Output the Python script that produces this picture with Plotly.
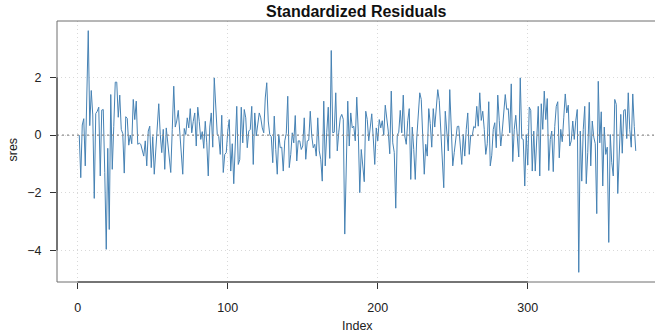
import plotly.graph_objects as go

sres = [
    0.00, -1.48, 0.35, 0.57, -1.07, 1.60, 3.63, 0.33, 1.55, 0.70,
    -2.20, 0.75, 0.83, 0.97, -1.42, 0.87, 0.89, -1.30, -3.97, -0.46,
    -3.28, 1.41, -1.19, 0.30, 1.84, 1.84, 0.62, 1.39, 0.20, 0.05,
    -1.32, 0.64, 0.58, -0.35, 0.00, -0.30, 1.24, 0.54, 1.18, -0.32,
    -0.28, -0.32, -0.50, -0.73, -0.20, -1.07, 0.14, 0.31, -1.13, -0.05,
    -1.36, -0.60, 0.25, 1.09, 0.02, -0.61, 0.20, -1.19, 0.25, -0.20,
    -0.75, -1.30, 0.20, 1.70, 0.28, 0.49, 0.86, 0.20, -0.55, -1.36,
    0.23, 0.02, 0.60, 0.25, 0.92, 0.08, 0.48, 0.77, -0.38, 0.97,
    0.48, -0.15, 0.12, -0.46, 0.48, -0.27, -1.42, 0.28, 0.77, -0.42,
    1.99, 0.95, 0.02, -0.05, -0.67, 0.69, -1.30, -0.67, -0.61, 0.14,
    0.54, -1.25, -0.30, -1.69, -0.20, 1.00, -1.02, -0.85, 0.97, -0.27,
    0.89, 0.60, -0.44, 0.14, 0.20, 1.00, -1.02, 0.77, -0.03, 0.50,
    0.77, 0.60, 0.25, 0.08, 1.29, 1.82, 0.49, 0.02, -0.05, -0.96,
    0.66, -0.50, -1.36, 0.02, -0.44, -0.42, -1.25, -0.20, 0.05, 1.35,
    -1.13, -0.67, 0.08, -0.27, 0.68, -0.90, -0.20, -0.20, -0.50, -0.38,
    0.60, -0.84, -0.20, -0.18, 0.83, -0.03, -0.44, -0.32, -0.73, 0.60,
    -0.55, -0.84, -1.60, 1.18, -1.07, 0.10, 0.97, -0.81, 2.94, 0.08,
    0.10, 1.47, -0.55, 0.10, 0.60, 0.72, 0.55, -3.44, -1.10, 1.18,
    -0.38, 0.77, 0.25, 0.31, -0.20, 1.32, 0.14, -2.00, -0.50, -1.05,
    -1.62, 0.83, 0.54, -0.20, 0.30, 0.74, -0.10, -1.02, 0.25, -0.20,
    0.54, 0.25, 0.50, 0.00, 1.04, 0.60, 0.14, -0.65, 1.53, -0.27,
    -0.60, -2.54, 0.00, 0.10, 0.86, 0.08, 1.39, -0.03, -0.32, 0.50,
    0.92, -1.54, 0.28, -0.50, -1.54, -0.10, 0.60, 1.47, 1.24, 0.20,
    -1.36, -0.32, -0.73, 0.92, 0.40, -0.42, 0.92, 0.28, 0.90, 1.58,
    1.20, 0.30, -0.80, -1.83, 0.83, 0.20, -0.55, 1.58, 0.10, -1.07,
    -0.60, -0.20, 0.30, 0.31, -0.40, -1.02, 0.02, -0.73, 0.20, 0.77,
    -0.67, 0.00, -0.03, 0.30, 0.25, 1.00, 0.31, 1.47, 0.51, 0.83,
    0.20, -0.67, -0.30, 1.16, -1.07, -0.70, 0.20, 0.43, -0.44, 1.39,
    0.50, -0.38, 0.14, 0.80, 1.41, 0.89, 0.92, 0.08, 1.78, -0.92,
    0.20, 0.69, -0.10, -0.76, 1.99, -0.12, -0.15, -1.77, 0.02, -1.04,
    0.97, 0.86, -1.25, 0.14, -1.25, 0.20, 1.00, -1.42, 1.09, 0.20,
    1.53, 0.54, 1.27, -1.23, -0.15, 0.14, -1.27, 0.30, 1.00, 1.16,
    -0.79, 0.20, -0.23, 0.60, 1.43, 0.77, 1.04, -0.38, -0.20, 0.49,
    -0.15, 0.50, 0.89, -4.77, 0.14, -1.60, 0.20, 1.00, -1.69, -0.60,
    1.14, -1.07, 0.49, -0.07, -0.30, -2.73, 1.87, -0.27, 0.81, -1.77,
    0.28, -0.67, -0.42, -3.73, 0.02, -0.96, -1.42, 1.24, 1.07, -2.03,
    -0.30, 0.72, -0.63, 0.86, 0.89, -0.12, 1.47, 0.20, -0.42, 1.43,
    0.30, -0.55,
]
index = list(range(1, len(sres) + 1))

x_ticks = [0, 100, 200, 300]
x_ticklabels = ["0", "100", "200", "300"]
y_ticks = [-4, -2, 0, 2]
y_ticklabels = ["\u22124", "\u22122", "0", "2"]

title_text = "Standardized Residuals"
x_title = "Index"
y_title = "sres"

n = len(sres)
ymin, ymax = min(sres), max(sres)
ypad = 0.04 * (ymax - ymin)
xlo = 1 - 0.04 * (n - 1)
L, R, T, B = 57, 0, 21, 51
W, H = 655, 333
xhi = xlo + (W - L - R) / 1.5

font = "Liberation Sans, Arial, Helvetica, sans-serif"

fig = go.Figure()
fig.add_trace(go.Scatter(x=index, y=sres, mode="lines",
                         line=dict(color="#4682B4", width=1),
                         hoverinfo="skip", showlegend=False))

fig.update_layout(
    width=W, height=H,
    margin=dict(l=L, r=R, t=T, b=B, autoexpand=False),
    paper_bgcolor="white", plot_bgcolor="white",
    font=dict(family=font, size=12.5, color="#222"),
    xaxis=dict(range=[xlo, xhi], tickvals=x_ticks, ticktext=x_ticklabels,
               showgrid=True, gridcolor="#d9d9d9", griddash="1px,3px", gridwidth=1,
               zeroline=False, showline=False, ticks="outside", ticklen=6,
               tickcolor="#333", tickwidth=1, ticklabelstandoff=8),
    yaxis=dict(range=[ymin - ypad, ymax + ypad], tickvals=y_ticks, ticktext=y_ticklabels,
               showgrid=True, gridcolor="#d9d9d9", griddash="1px,3px", gridwidth=1,
               zeroline=False, showline=False, ticks="outside", ticklen=6,
               tickcolor="#333", tickwidth=1, ticklabelstandoff=6),
    shapes=[
        dict(type="line", xref="paper", yref="y", x0=0, x1=1, y0=0, y1=0,
             line=dict(color="#8c8c8c", width=1.2, dash="2px,3px")),
        dict(type="rect", xref="paper", yref="paper", x0=0, x1=1.05, y0=0, y1=1,
             line=dict(color="#6e6e6e", width=1)),
        dict(type="line", xref="x", yref="paper", x0=x_ticks[0], x1=x_ticks[-1], y0=0, y1=0,
             line=dict(color="#333", width=1)),
        dict(type="line", xref="paper", yref="y", x0=0, x1=0, y0=y_ticks[0], y1=y_ticks[-1],
             line=dict(color="#333", width=1)),
    ],
    annotations=[
        dict(text="<b>" + title_text + "</b>", xref="paper", yref="paper",
             x=(356 - L) / (W - L - R), y=(H - B - 12) / (H - B - T),
             xanchor="center", yanchor="middle", showarrow=False,
             font=dict(size=16, color="#111")),
        dict(text=x_title, xref="paper", yref="paper",
             x=(357 - L) / (W - L - R), y=-(326 - (H - B)) / (H - B - T),
             xanchor="center", yanchor="middle", showarrow=False,
             font=dict(size=12.5, color="#222")),
        dict(text=y_title, xref="paper", yref="paper",
             x=-(L - 12.5) / (W - L - R), y=(H - B - 150) / (H - B - T),
             xanchor="center", yanchor="middle", showarrow=False, textangle=-90,
             font=dict(size=12.5, color="#222")),
    ],
)

fig.write_html("out.html")
